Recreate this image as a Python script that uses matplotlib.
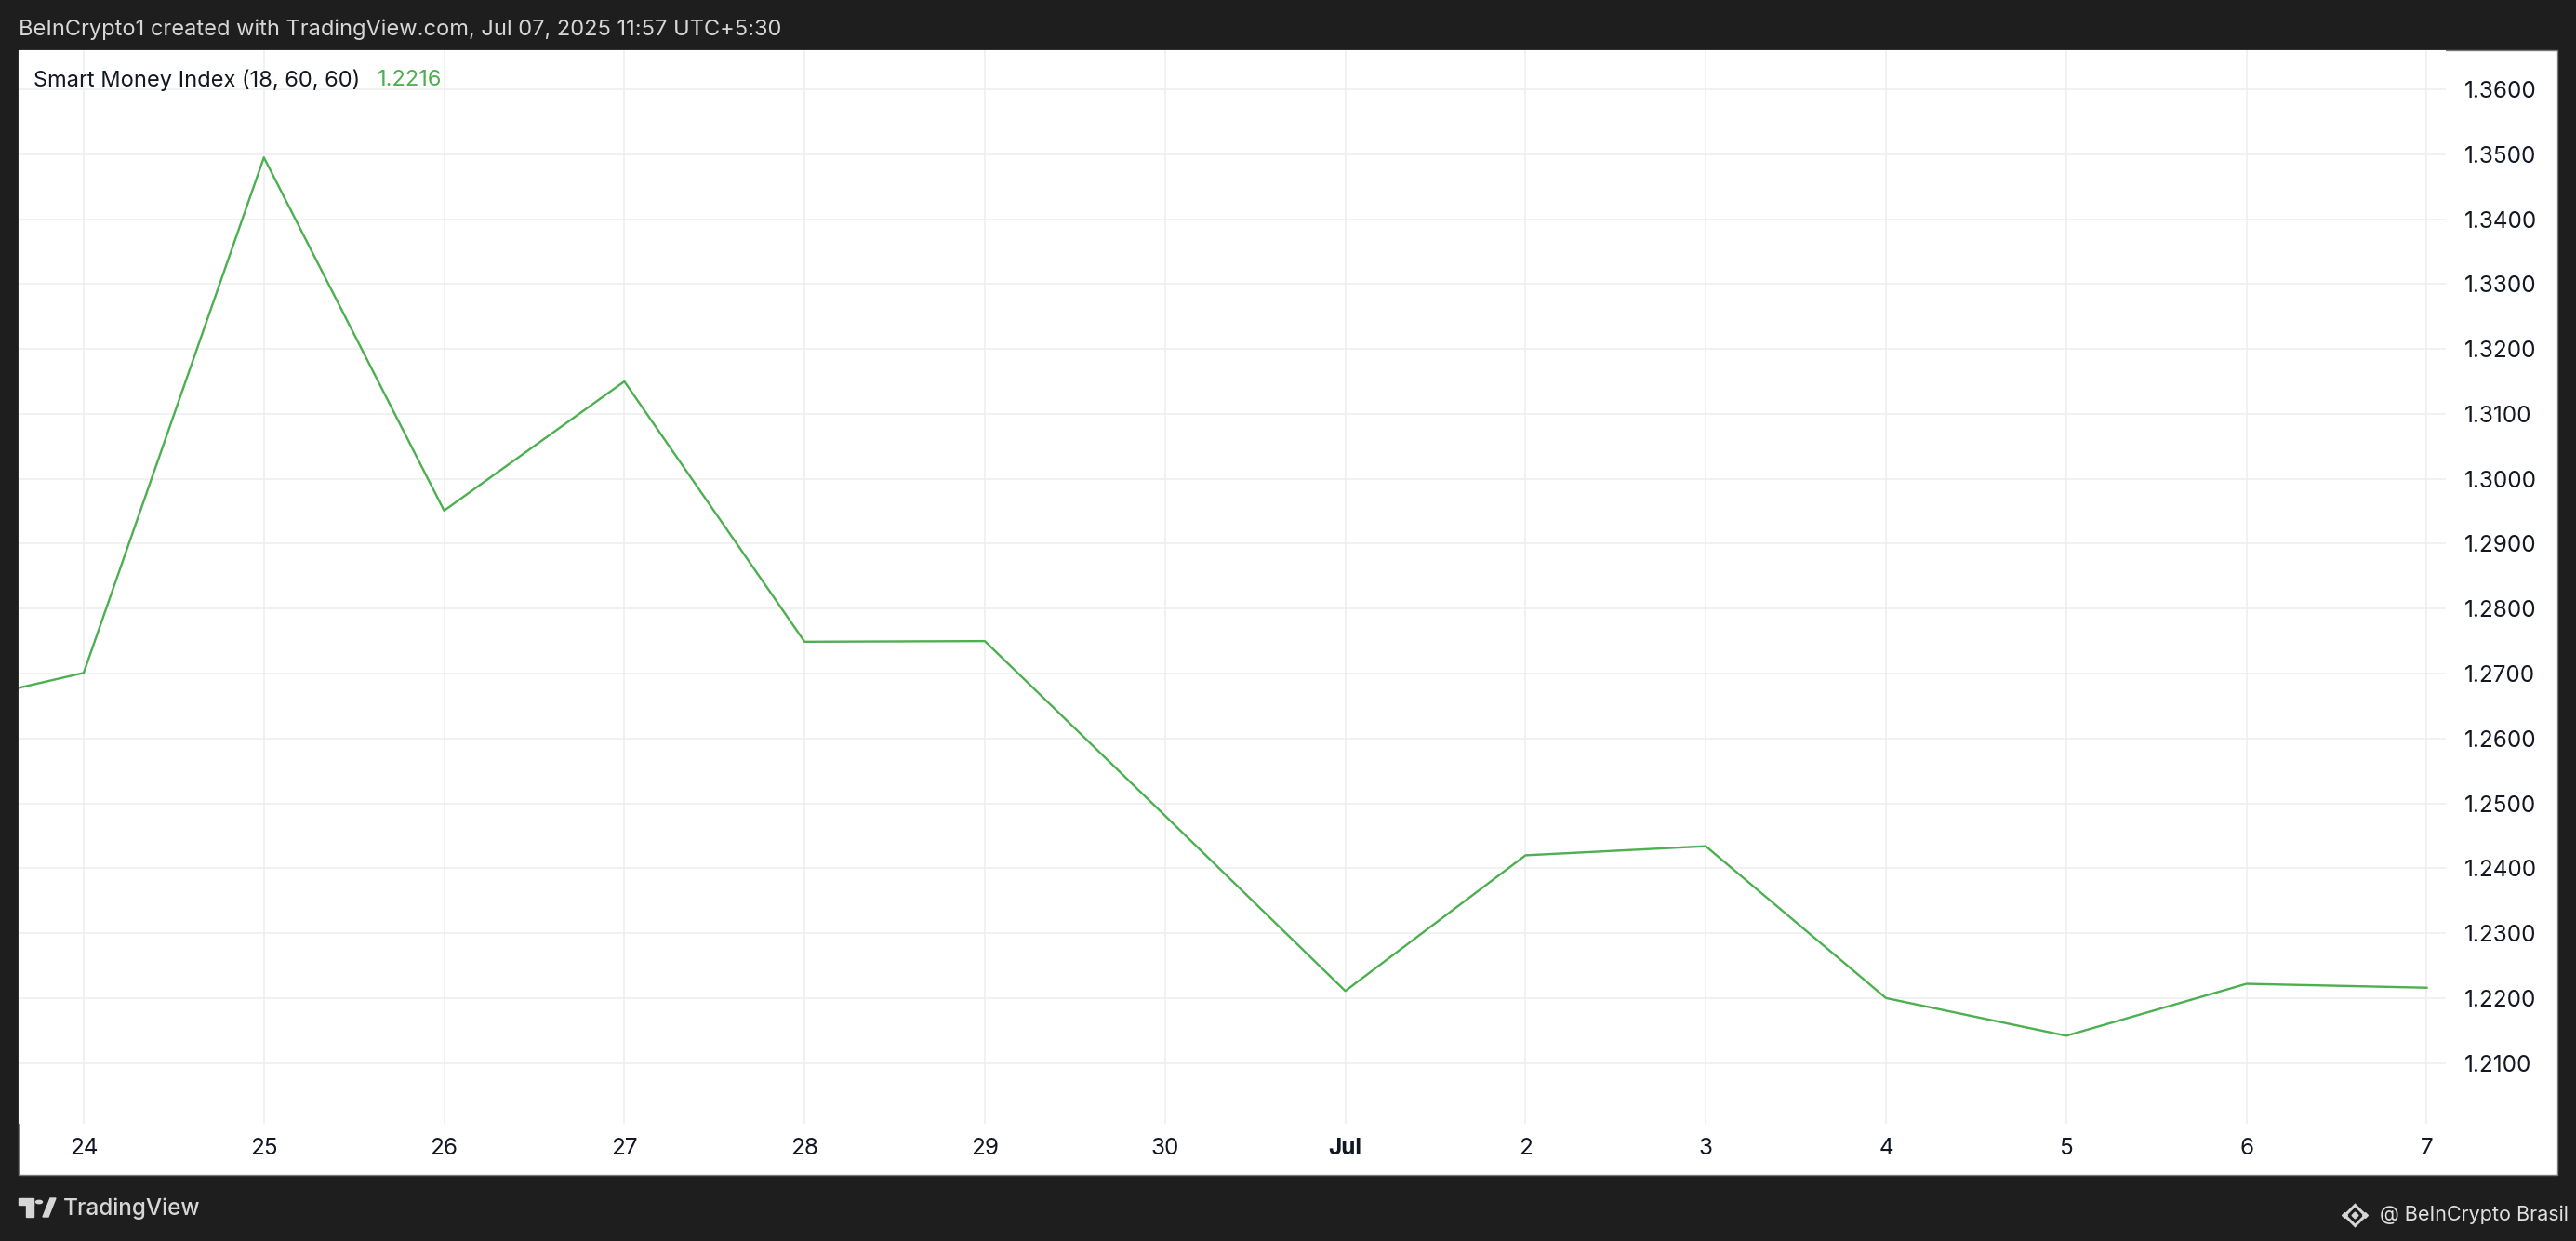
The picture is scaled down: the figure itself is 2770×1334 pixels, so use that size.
import pandas as pd
import matplotlib.pyplot as plt
from matplotlib.patches import Rectangle, Polygon, Circle

plt.rcParams['font.family'] = ['Inter', 'DejaVu Sans']

# data (daily Smart Money Index)
dates = pd.date_range('2025-06-23', '2025-07-07', freq='D')
smi = [1.2637, 1.2701, 1.3495, 1.2951, 1.3150, 1.2749, 1.2750, 1.2481,
       1.2211, 1.2420, 1.2434, 1.2200, 1.2142, 1.2222, 1.2216]
tick_dates = pd.date_range('2025-06-24', '2025-07-07', freq='D')
tick_labels = ['24', '25', '26', '27', '28', '29', '30', 'Jul',
               '2', '3', '4', '5', '6', '7']
y_ticks = [1.21 + 0.01 * i for i in range(16)]

W, H = 2770, 1334
dark = '#1e1e1e'
text_dark = '#131722'
green = '#4caf50'

fig = plt.figure(figsize=(W / 100, H / 100), dpi=100, facecolor=dark)

# white chart panel (behind the axes)
fig.patches.append(Rectangle((20 / W, (H - 1263) / H), 2730 / W, 1209 / H,
                             transform=fig.transFigure, facecolor='white',
                             edgecolor='#7a7a7a', linewidth=1, zorder=-5))

ax = fig.add_axes([20 / W, (H - 1208) / H, 2610 / W, 1154 / H])
ax.set_zorder(2)
ax.set_facecolor('white')
ax.plot(dates, smi, color=green, linewidth=1.7, zorder=3)

start = pd.Timestamp('2025-06-24')
ax.set_xlim(start - pd.Timedelta(days=0.361), start + pd.Timedelta(days=13.106))
ax.set_ylim(1.20064, 1.36602)

ax.set_xticks(tick_dates)
ax.set_xticklabels(tick_labels)
for lbl in ax.get_xticklabels():
    if lbl.get_text() == 'Jul':
        lbl.set_fontweight('bold')
ax.set_yticks(y_ticks)
ax.set_yticklabels(['%.4f' % v for v in y_ticks])
ax.yaxis.tick_right()
ax.tick_params(axis='x', length=0, pad=11, labelsize=17.5, labelcolor=text_dark)
ax.tick_params(axis='y', length=0, pad=14, labelsize=17.5, labelcolor=text_dark)
ax.grid(True, color='#eeeeee', linewidth=1.1, zorder=0)
ax.set_axisbelow(True)
for s in ax.spines.values():
    s.set_visible(False)

# indicator caption
ax.text(36 / W, 1 - 86 / H, 'Smart Money Index (18, 60, 60)', fontsize=17,
        color=text_dark, va='center', ha='left', transform=fig.transFigure)
ax.text(406 / W, 1 - 86 / H, '1.2216', fontsize=17, color=green,
        va='center', ha='left', transform=fig.transFigure)

# header
fig.text(20 / W, 1 - 32 / H,
         'BeInCrypto1 created with TradingView.com, Jul 07, 2025 11:57 UTC+5:30',
         fontsize=17, color='#d6d6d6', va='center', ha='left')

# footer: TradingView logo + name
logo = '#d6d6d6'
fig.patches.append(Rectangle((20 / W, 1 - 1295 / H), 16 / W, 7 / H,
                             transform=fig.transFigure, color=logo))
fig.patches.append(Rectangle((28 / W, 1 - 1308 / H), 8 / W, 15 / H,
                             transform=fig.transFigure, color=logo))
fig.patches.append(Circle((42 / W, 1 - 1292 / H), 3.5 / W,
                          transform=fig.transFigure, color=logo))
fig.patches.append(Polygon([(46 / W, 1 - 1308 / H), (52 / W, 1 - 1308 / H),
                            (60 / W, 1 - 1288 / H), (54 / W, 1 - 1288 / H)],
                           closed=True, transform=fig.transFigure, color=logo))
fig.text(68 / W, 1 - 1299 / H, 'TradingView', fontsize=17.5, color=logo,
         fontweight='medium', va='center', ha='left')

# footer: watermark icon + handle
cx, cy = 2532, 1306
fig.lines.append(plt.Line2D([cx / W], [1 - cy / H], marker='D', markersize=11,
                            markerfacecolor='none', markeredgecolor=logo,
                            markeredgewidth=2.2, linestyle='none',
                            transform=fig.transFigure))
for dx, dy, s in [(0, 0, 3.5), (-11, 0, 3), (11, 0, 3)]:
    fig.lines.append(plt.Line2D([(cx + dx) / W], [1 - (cy + dy) / H], marker='D',
                                markersize=s, color=logo, linestyle='none',
                                transform=fig.transFigure))
fig.text(2762 / W, 1 - 1306 / H, '@ BeInCrypto Brasil', fontsize=15.5,
         color='#e0e0e0', va='center', ha='right')

fig.savefig('out.png', dpi=100, facecolor=dark)
